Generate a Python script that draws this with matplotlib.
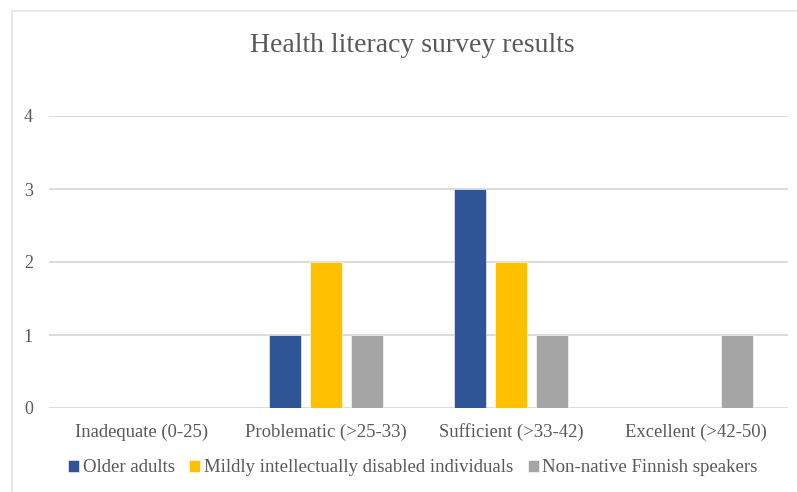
import matplotlib
matplotlib.use("Agg")
import matplotlib.pyplot as plt
import numpy as np
from matplotlib.lines import Line2D

categories = ["Inadequate (0-25)", "Problematic (>25-33)", "Sufficient (>33-42)", "Excellent (>42-50)"]
series_names = ["Older adults", "Mildly intellectually disabled individuals", "Non-native Finnish speakers"]
older_adults = [0, 1, 3, 0]
mildly_disabled = [0, 2, 2, 0]
non_native = [0, 1, 1, 1]
y_ticks = [0, 1, 2, 3, 4]

colors = ["#2F5597", "#FFC000", "#A5A5A5"]
text_color = "#595959"
grid_color = "#D9D9D9"

plt.rcParams["font.family"] = ["Liberation Serif", "DejaVu Serif"]

W, H = 797, 492
fig = plt.figure(figsize=(W / 100, H / 100), dpi=100)
ax = fig.add_axes([49 / W, (H - 408) / H, (788 - 49) / W, (408 - 116) / H])

x = np.arange(len(categories))
bar_w = 32 / 185
step = 41 / 185
series = [older_adults, mildly_disabled, non_native]
for i, (vals, name, c) in enumerate(zip(series, series_names, colors)):
    ax.bar(x + (i - 1) * step, vals, width=bar_w, color=c, label=name,
           edgecolor="white", linewidth=0.4, zorder=3)

ax.set_xlim(-0.5, len(categories) - 0.5)
ax.set_ylim(0, 4)
ax.set_yticks(y_ticks)
ax.set_xticks(x)
ax.set_xticklabels(categories)
ax.grid(axis="y", color=grid_color, linewidth=1.3, zorder=0)
for s in ax.spines.values():
    s.set_visible(False)
ax.tick_params(axis="both", length=0, colors=text_color, labelsize=13.4)
ax.tick_params(axis="y", pad=11.5, labelsize=13)
ax.tick_params(axis="x", pad=11)

fig.text(412 / W, 1 - 45 / H, "Health literacy survey results", ha="center", va="center",
         fontsize=20, color=text_color)

leg = fig.legend(loc="center", bbox_to_anchor=(413 / W, (H - 468) / H), ncol=3, frameon=False,
                 fontsize=13.5, handlelength=0.6, handleheight=0.6, handletextpad=0.2,
                 columnspacing=0.75, labelcolor=text_color)

# outer chart border (top and left edges visible)
fig.add_artist(Line2D([12 / W, 1], [1 - 11 / H, 1 - 11 / H], color="#E6E6E6", lw=1.2))
fig.add_artist(Line2D([12 / W, 12 / W], [0, 1 - 11 / H], color="#E6E6E6", lw=1.2))

fig.savefig("out.png", dpi=100, facecolor="white")
